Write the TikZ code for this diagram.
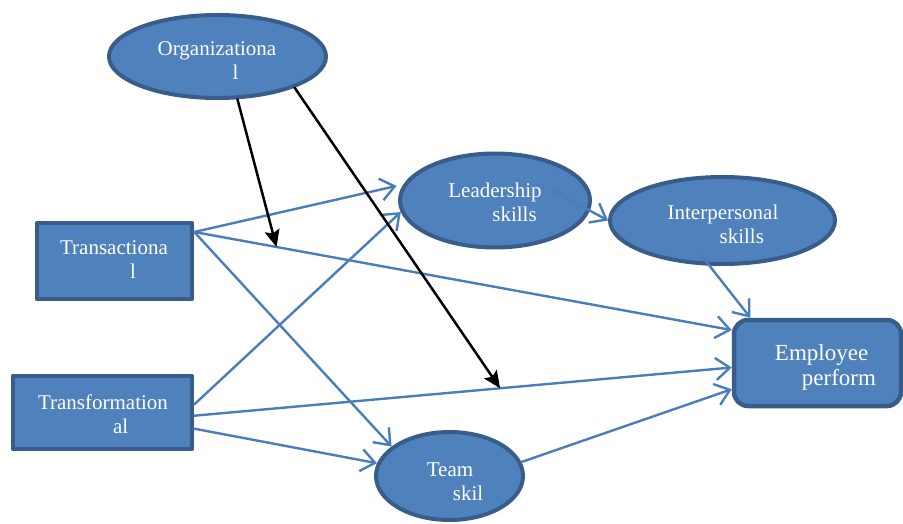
\documentclass[tikz,border=0pt]{standalone}
\usepackage{fontspec}
\setmainfont{Liberation Serif}
\usetikzlibrary{arrows.meta,shapes.geometric}
\definecolor{boxfill}{HTML}{4F81BD}
\definecolor{boxline}{HTML}{385D8A}
\definecolor{linkblue}{HTML}{4A7EBB}

\begin{document}
\begin{tikzpicture}[x=1pt,y=-1pt,line join=round,line cap=round,
	oval/.style={ellipse,fill=boxfill,draw=boxline,line width=4pt,inner sep=0pt},
	box/.style={rectangle,fill=boxfill,draw=boxline,line width=4.5pt,inner sep=0pt},
	txt/.style={text=white,align=left,inner sep=0pt,font=\fontsize{21}{24}\selectfont},
	link/.style={draw=linkblue,line width=2.4pt,-{Straight Barb[length=14pt,width=22pt]}},
	effect/.style={draw=black,line width=2.5pt,-{Stealth[length=17pt,width=15pt,inset=3pt]}}]
	\useasboundingbox (0,0) rectangle (903,524);
	% khung va hinh elip
	\node[oval,minimum width=217pt,minimum height=83pt] (org) at (217.5,56.5) {};
	\node[box,minimum width=155pt,minimum height=76pt] (tra) at (114.5,261) {};
	\node[box,minimum width=179pt,minimum height=73pt] (tfm) at (102.5,412.5) {};
	\node[oval,minimum width=190pt,minimum height=94pt] (lead) at (495,200.5) {};
	\node[oval,minimum width=225pt,minimum height=87pt] (inter) at (722.5,220.5) {};
	\node[oval,minimum width=147pt,minimum height=88pt] (team) at (449.5,476) {};
	\node[box,rounded corners=14pt,minimum width=167pt,minimum height=86pt] (emp) at (817.5,363) {};
	% chu
	\node[txt] (org-t) at (217,60.5) {Organizationa\\\hspace*{75pt}l};
	\node[txt] (tra-t) at (114,260) {Transactiona\\\hspace*{70pt}l};
	\node[txt] (tfm-t) at (103,414) {Transformation\\\hspace*{75pt}al};
	\node[txt] (lead-t) at (495,202) {Leadership\\\hspace*{44pt}skills};
	\node[txt] (inter-t) at (723,224) {Interpersonal\\\hspace*{52pt}skills};
	\node[txt] (team-t) at (455,482) {Team\\\hspace*{26pt}skil};
	\node[txt,font=\fontsize{23}{25}\selectfont] (emp-t) at (825.5,367) {Employee\\\hspace*{27pt}perform};
	% mui ten xanh
	\draw[link,shorten >=7pt] (tra.20) -- (lead.170);
	\draw[link] (tra.20) -- coordinate[pos=0.153] (m1) (emp.159);
	\draw[link] (tra.20) -- (team.153);
	\draw[link] (tfm.5) -- (lead.187);
	\draw[link] (tfm.-2) -- coordinate[pos=0.569] (m2) (emp.183);
	\draw[link] (tfm.-10) -- (team.170);
	\draw[link] (team.11) -- (emp.197);
	\draw[link] ([xshift=58pt,yshift=10pt]lead.center) -- (inter.west);
	\draw[link] ([xshift=-25pt,yshift=-30pt]inter.center) -- (emp.146);
	% mui ten den
	\draw[effect] (org.-65) -- (m1);
	\draw[effect] (org.-22) -- (m2);
\end{tikzpicture}
\end{document}
